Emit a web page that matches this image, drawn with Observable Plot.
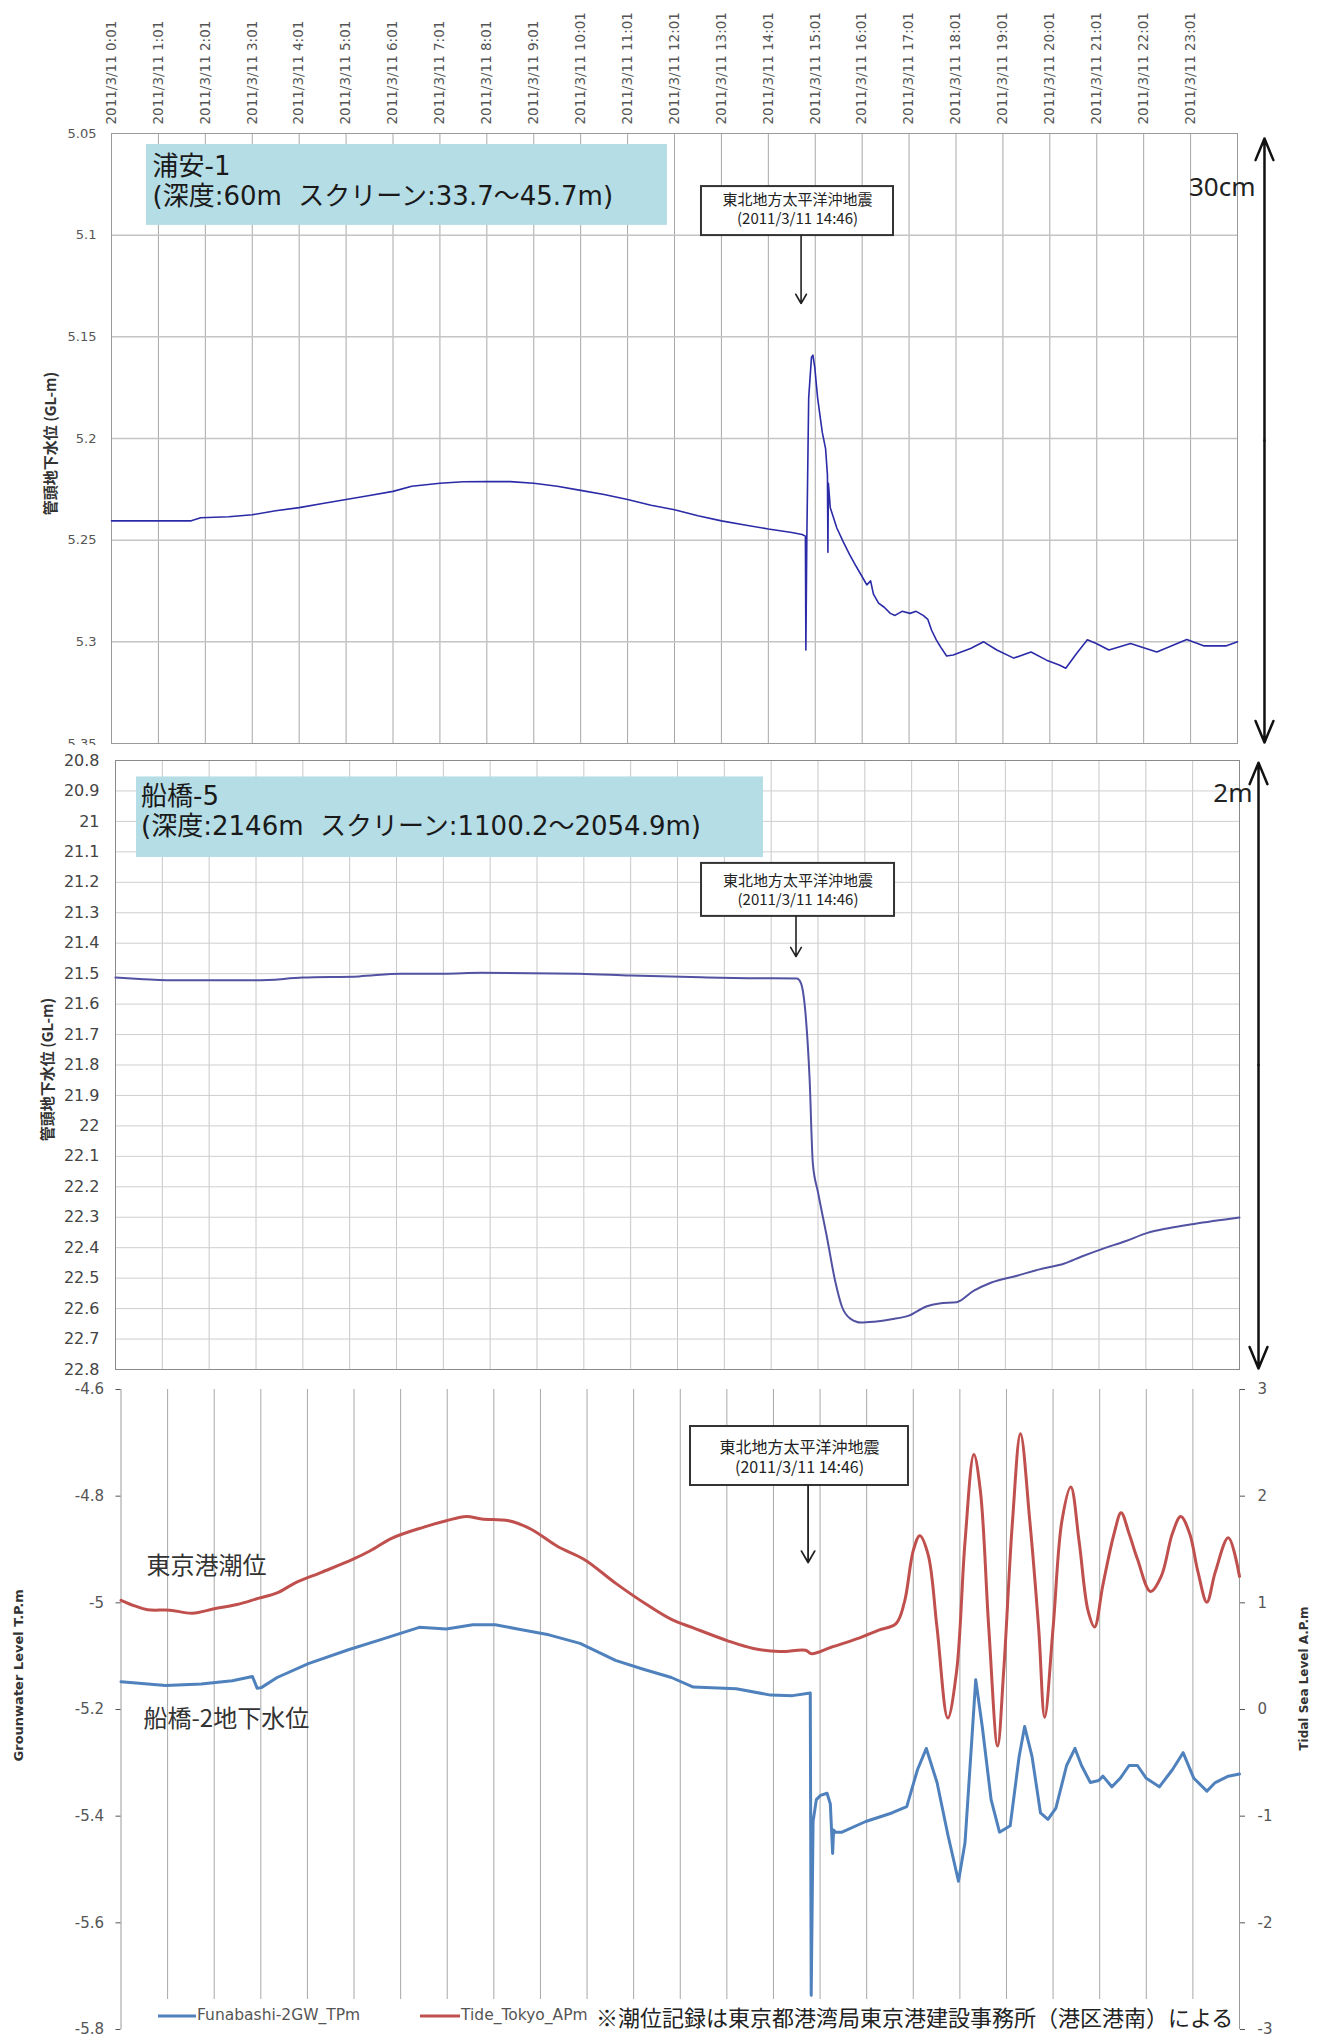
<!DOCTYPE html>
<html><head><meta charset="utf-8">
<script src="https://cdn.jsdelivr.net/npm/d3@7"></script>
<script src="https://cdn.jsdelivr.net/npm/@observablehq/plot@0.6"></script>
<style>
body{margin:0;background:#fff;}
#wrap{position:relative;width:1327px;height:2044px;overflow:hidden;background:#fff;font-family:"Noto Sans CJK JP","Noto Sans",sans-serif;}
.pane{position:absolute;left:0;}
#legend{position:absolute;left:140px;top:1999px;width:1094px;height:34px;background:#fff;}
#legend span{position:absolute;top:50%;transform:translateY(-50%);white-space:nowrap;line-height:1;}
.sw{height:0;border-top:3px solid;}
.lt{font-family:"DejaVu Sans",sans-serif;font-size:15.5px;color:#555;}
.note{font-family:"Noto Sans CJK JP",sans-serif;font-size:22px;color:#222;}
</style></head><body><div id="wrap"></div>
<script>
// ---------- data ----------
const tickHours = [0,1,2,3,4,5,6,7,8,9,10,11,12,13,14,15,16,17,18,19,20,21,22,23];
const ticks1 = [5.05,5.1,5.15,5.2,5.25,5.3,5.35];
const ticks2 = [20.8,20.9,21,21.1,21.2,21.3,21.4,21.5,21.6,21.7,21.8,21.9,22,22.1,22.2,22.3,22.4,22.5,22.6,22.7,22.8];
const ticksGW = [-4.6,-4.8,-5,-5.2,-5.4,-5.6,-5.8];
const ticksTide = [3,2,1,0,-1,-2,-3];

// 浦安-1 (GL-m)
const hours1 = [0,1,1.7,1.9,2.5,3,3.5,4,4.5,5,5.5,6,6.4,7,7.5,8,8.5,9,9.5,10,10.5,11,11.5,12,12.5,13,13.5,14,14.5,14.72,14.79,14.8,14.82,14.86,14.92,14.95,14.99,15.05,15.15,15.22,15.26,15.27,15.28,15.32,15.46,15.6,15.73,15.85,16,16.1,16.18,16.24,16.35,16.47,16.6,16.7,16.85,17.02,17.15,17.3,17.4,17.48,17.58,17.67,17.8,17.94,18.31,18.59,18.87,19.23,19.6,19.93,20.2,20.34,20.57,20.8,20.99,21.26,21.72,22.28,22.92,23.29,23.75,24];
const urayasu1 = [5.2405,5.2405,5.2405,5.239,5.2385,5.2375,5.2355,5.234,5.232,5.230,5.228,5.226,5.2235,5.222,5.2213,5.2212,5.2212,5.222,5.2235,5.2255,5.2275,5.230,5.2328,5.235,5.238,5.2405,5.2425,5.2445,5.2462,5.2472,5.248,5.304,5.25,5.18,5.16,5.159,5.165,5.18,5.197,5.205,5.218,5.256,5.222,5.234,5.244,5.251,5.257,5.262,5.268,5.272,5.270,5.2765,5.281,5.283,5.286,5.287,5.285,5.286,5.285,5.287,5.289,5.2943,5.299,5.3025,5.307,5.3065,5.3033,5.300,5.304,5.308,5.305,5.309,5.3114,5.313,5.3057,5.299,5.3008,5.304,5.3008,5.305,5.2989,5.302,5.302,5.300];

// 船橋-5 (GL-m)
const hours2 = [0,0.6,1.35,3,4,5.2,6.1,7,7.8,9.9,11,12.5,13.5,14.55,14.63,14.74,14.82,14.89,15.0,15.19,15.37,15.51,15.69,15.92,16.2,16.57,16.94,17.31,17.59,17.96,18.32,18.69,19.25,19.71,20.26,20.63,21.09,21.56,22.02,22.48,23.03,24];
const funabashi5 = [21.513,21.518,21.522,21.522,21.513,21.509,21.500,21.500,21.497,21.500,21.506,21.512,21.515,21.516,21.529,21.643,21.843,22.124,22.218,22.365,22.512,22.593,22.633,22.646,22.643,22.635,22.623,22.593,22.583,22.579,22.542,22.515,22.492,22.472,22.452,22.429,22.403,22.379,22.352,22.336,22.322,22.301];

// Funabashi-2GW_TPm (T.P.m)
const hoursGW = [0,0.96,1.72,2.39,2.82,2.92,3.01,3.35,4.02,4.88,5.54,6.4,6.98,7.55,8.03,8.51,9.18,9.85,10.61,11.19,11.81,12.28,13.2,13.94,14.41,14.79,14.81,14.85,14.92,15.01,15.15,15.22,15.27,15.29,15.33,15.47,15.98,16.54,16.86,17.09,17.28,17.51,17.74,17.97,18.11,18.25,18.34,18.48,18.67,18.85,19.08,19.27,19.39,19.55,19.73,19.89,20.06,20.29,20.47,20.61,20.8,20.98,21.07,21.26,21.44,21.63,21.81,22.0,22.28,22.56,22.79,23.02,23.3,23.48,23.76,24];
const funabashi2 = [-5.148,-5.155,-5.152,-5.146,-5.138,-5.160,-5.159,-5.140,-5.114,-5.088,-5.070,-5.046,-5.049,-5.041,-5.041,-5.049,-5.06,-5.076,-5.108,-5.124,-5.14,-5.158,-5.161,-5.173,-5.174,-5.169,-5.736,-5.41,-5.369,-5.361,-5.357,-5.377,-5.47,-5.426,-5.43,-5.43,-5.41,-5.394,-5.382,-5.313,-5.273,-5.337,-5.434,-5.522,-5.45,-5.265,-5.144,-5.232,-5.369,-5.43,-5.418,-5.289,-5.232,-5.289,-5.394,-5.406,-5.385,-5.305,-5.273,-5.305,-5.337,-5.333,-5.325,-5.345,-5.329,-5.305,-5.305,-5.329,-5.345,-5.313,-5.281,-5.329,-5.353,-5.337,-5.325,-5.321];

// Tide_Tokyo_APm (A.P.m)
const hoursTide = [0,0.29,0.57,1.05,1.53,2.0,2.49,2.96,3.35,3.73,4.3,4.97,5.35,5.83,6.5,6.98,7.41,7.74,8.32,8.8,9.37,9.94,10.61,11.28,11.81,12.28,13.02,13.57,14.13,14.69,14.82,15.24,15.8,16.26,16.63,16.81,17.0,17.14,17.32,17.51,17.74,17.93,18.11,18.3,18.44,18.62,18.81,18.94,19.13,19.3,19.5,19.69,19.82,20.0,20.19,20.38,20.56,20.75,20.89,21.07,21.31,21.46,21.63,21.81,22.09,22.32,22.56,22.74,22.93,23.11,23.3,23.48,23.76,24];
const tideTokyo = [1.024,0.972,0.935,0.931,0.903,0.944,0.984,1.044,1.093,1.185,1.286,1.407,1.488,1.609,1.71,1.77,1.81,1.786,1.77,1.69,1.528,1.407,1.185,0.984,0.845,0.765,0.644,0.572,0.543,0.555,0.523,0.584,0.664,0.745,0.805,1.006,1.49,1.63,1.45,0.765,-0.08,0.36,1.57,2.39,2.05,0.765,-0.343,0.36,1.77,2.585,1.77,0.765,-0.073,0.765,1.77,2.086,1.57,0.926,0.773,1.17,1.65,1.844,1.65,1.41,1.107,1.248,1.65,1.81,1.65,1.288,1.006,1.288,1.61,1.248];

// ---------- helpers ----------
const W = 1327;
const JP = "Noto Sans CJK JP";
const BOXFONT = "DejaVu Sans, Noto Sans CJK JP";
const zipHV = (h, v) => h.map((x, i) => ({h: x, v: v[i]}));
const tideToLeft = r => r / 5 - 5.2;   // right axis (A.P.m) mapped onto left axis (T.P.m)
const leftToTide = v => Math.round((v + 5.2) * 5);
const hourFmt = h => `2011/3/11 ${h}:01`;
const quakeL1 = "東北地方太平洋沖地震", quakeL2 = "(2011/3/11 14:46)";
const yTitle = "管頭地下水位 (GL-m)";
const wrap = document.getElementById("wrap");
function place(svg, top){ const d=document.createElement("div"); d.className="pane"; d.style.top=top+"px"; d.appendChild(svg); wrap.appendChild(d); }

// ---------- panel 1 : 浦安-1 ----------
const a1 = {
  title:{y:5.2025},
  box:{x1:0.746,x2:11.85,y1:5.0554,y2:5.0952}, t1:{x:0.874,y:5.0662,t:"浦安-1"}, t2:{x:0.874,y:5.0813,t:"(深度:60m  スクリーン:33.7～45.7m)"},
  qbox:{x1:12.575,x2:16.668,y1:5.0761,y2:5.1002}, q1:{x:14.622,y:5.083}, q2:{x:14.622,y:5.0923},
  arrow:{x1:14.698,y1:5.1002,x2:14.698,y2:5.1336},
  scale:{x:24.575,top:5.0525,bot:5.3495,mid:5.201}, scaleLabel:{x:24.384,y:5.0768,t:"30cm"}
};
const p1 = Plot.plot({
  width: W, height: 755, marginTop: 133, marginBottom: 12, marginLeft: 111, marginRight: 90,
  style: {fontFamily: "DejaVu Sans, sans-serif", background: "transparent", overflow: "visible"},
  x: {domain: [0, 24], axis: null},
  y: {domain: [5.05, 5.35], reverse: true, axis: null},
  marks: [
    Plot.gridX(tickHours.slice(1), {stroke: "#a8a8a8", strokeOpacity: 1}),
    Plot.gridY(ticks1.slice(1, -1), {stroke: "#c4c4c4", strokeOpacity: 1, strokeWidth: 1.5}),
    Plot.frame({stroke: "#9a9a9a"}),
    Plot.axisX(tickHours, {anchor: "top", tickRotate: -90, tickFormat: hourFmt, tickSize: 0, tickPadding: 9, textAnchor: "start", lineAnchor: "middle", fontSize: 13.5, color: "#555"}),
    Plot.axisY(ticks1, {anchor: "left", tickSize: 0, tickPadding: 15, tickFormat: d => String(+d.toFixed(2)), fontSize: 13, color: "#555"}),
    Plot.text([{...a1.title, t: yTitle}], {y: "y", text: "t", frameAnchor: "left", textAnchor: "middle", dx: -60, rotate: -90, fontFamily: JP, fontSize: 15, fontWeight: "bold", fill: "#333"}),
    Plot.rect([a1.box], {x1: "x1", x2: "x2", y1: "y1", y2: "y2", fill: "#b5dde6"}),
    Plot.text([a1.t1, a1.t2], {x: "x", y: "y", text: "t", textAnchor: "start", fontFamily: BOXFONT, fontSize: 26, fill: "#1a1a1a"}),
    Plot.line(zipHV(hours1, urayasu1), {x: "h", y: "v", stroke: "#2b2ba8", strokeWidth: 1.6}),
    Plot.rect([a1.qbox], {x1: "x1", x2: "x2", y1: "y1", y2: "y2", fill: "white", stroke: "#333", strokeWidth: 2}),
    Plot.text([{...a1.q1, t: quakeL1}, {...a1.q2, t: quakeL2}], {x: "x", y: "y", text: "t", fontFamily: JP, fontSize: 15, fill: "#222"}),
    Plot.arrow([a1.arrow], {x1: "x1", y1: "y1", x2: "x2", y2: "y2", stroke: "#222", strokeWidth: 1.6, headLength: 10}),
    Plot.arrow([{x: a1.scale.x, y1: a1.scale.mid, y2: a1.scale.top}, {x: a1.scale.x, y1: a1.scale.mid, y2: a1.scale.bot}], {x1: "x", x2: "x", y1: "y1", y2: "y2", stroke: "#111", strokeWidth: 2.5, headLength: 14, headAngle: 45}),
    Plot.text([a1.scaleLabel], {x: "x", y: "y", text: "t", textAnchor: "end", fontFamily: "Noto Sans", fontSize: 26, fill: "#222"})
  ]
});
place(p1, 0);

// ---------- panel 2 : 船橋-5 ----------
const a2 = {
  title:{y:21.815},
  box:{x1:0.448,x2:13.836,y1:20.854,y2:21.1186}, t1:{x:0.547,y:20.918,t:"船橋-5"}, t2:{x:0.547,y:21.0167,t:"(深度:2146m  スクリーン:1100.2～2054.9m)"},
  qbox:{x1:12.513,x2:16.634,y1:21.138,y2:21.312}, q1:{x:14.573,y:21.196}, q2:{x:14.573,y:21.26},
  arrow:{x1:14.53,y1:21.312,x2:14.53,y2:21.444},
  scale:{x:24.406,top:20.807,bot:22.797,mid:21.8}, scaleLabel:{x:24.278,y:20.908,t:"2m"}
};
const p2 = Plot.plot({
  width: W, height: 634, marginTop: 15, marginBottom: 10, marginLeft: 115, marginRight: 88,
  style: {fontFamily: "DejaVu Sans, sans-serif", background: "white", overflow: "visible"},
  x: {domain: [0, 24], axis: null},
  y: {domain: [20.8, 22.8], reverse: true, axis: null},
  marks: [
    Plot.gridX(tickHours.slice(1), {stroke: "#c8c8c8", strokeOpacity: 1}),
    Plot.gridY(ticks2.slice(1, -1), {stroke: "#cfcfcf", strokeOpacity: 1}),
    Plot.frame({stroke: "#8a8a8a"}),
    Plot.axisY(ticks2, {anchor: "left", tickSize: 0, tickPadding: 16, tickFormat: d => String(+d.toFixed(1)), fontSize: 16, color: "#444"}),
    Plot.text([{...a2.title, t: yTitle}], {y: "y", text: "t", frameAnchor: "left", textAnchor: "middle", dx: -67, rotate: -90, fontFamily: JP, fontSize: 15, fontWeight: "bold", fill: "#333"}),
    Plot.rect([a2.box], {x1: "x1", x2: "x2", y1: "y1", y2: "y2", fill: "#b5dde6"}),
    Plot.text([a2.t1, a2.t2], {x: "x", y: "y", text: "t", textAnchor: "start", fontFamily: BOXFONT, fontSize: 26, fill: "#1a1a1a"}),
    Plot.line(zipHV(hours2, funabashi5), {x: "h", y: "v", stroke: "#5252a3", strokeWidth: 2, curve: "monotone-x"}),
    Plot.rect([a2.qbox], {x1: "x1", x2: "x2", y1: "y1", y2: "y2", fill: "white", stroke: "#333", strokeWidth: 2}),
    Plot.text([{...a2.q1, t: quakeL1}, {...a2.q2, t: quakeL2}], {x: "x", y: "y", text: "t", fontFamily: JP, fontSize: 15, fill: "#222"}),
    Plot.arrow([a2.arrow], {x1: "x1", y1: "y1", x2: "x2", y2: "y2", stroke: "#222", strokeWidth: 1.6, headLength: 10}),
    Plot.arrow([{x: a2.scale.x, y1: a2.scale.mid, y2: a2.scale.top}, {x: a2.scale.x, y1: a2.scale.mid, y2: a2.scale.bot}], {x1: "x", x2: "x", y1: "y1", y2: "y2", stroke: "#111", strokeWidth: 2.5, headLength: 14, headAngle: 45}),
    Plot.text([a2.scaleLabel], {x: "x", y: "y", text: "t", textAnchor: "end", fontFamily: "Noto Sans", fontSize: 26, fill: "#222"})
  ]
});
place(p2, 745);

// ---------- panel 3 : 船橋-2 / 東京港潮位 ----------
const a3 = {
  qbox:{x1:12.22,x2:16.897,y1:-4.6694,y2:-4.78}, q1:{x:14.559,y:-4.7088}, q2:{x:14.559,y:-4.7463},
  arrow:{x1:14.743,y1:-4.78,x2:14.743,y2:-4.9244},
  tideLabel:{x:0.547,y:-4.932,t:"東京港潮位"}, gwLabel:{x:0.483,y:-5.219,t:"船橋-2地下水位"},
  leftTitle:{y:-5.136,t:"Grounwater Level T.P.m"}, rightTitle:{y:-5.142,t:"Tidal Sea Level A.P.m"}
};
const p3 = Plot.plot({
  width: W, height: 669, marginTop: 14, marginBottom: 15, marginLeft: 120.5, marginRight: 88,
  style: {fontFamily: "DejaVu Sans, sans-serif", background: "transparent", overflow: "visible"},
  x: {domain: [0, 24], axis: null},
  y: {domain: [-5.8, -4.6], axis: null},
  marks: [
    Plot.gridX(tickHours.slice(1), {stroke: "#a8a8a8", strokeOpacity: 1}),
    Plot.ruleX([0, 24], {stroke: "#9a9a9a"}),
    Plot.axisY(ticksGW, {anchor: "left", tickSize: 5, tickPadding: 12, tickFormat: d => String(d), fontSize: 15, color: "#555"}),
    Plot.axisY(ticksTide.map(tideToLeft), {anchor: "right", tickSize: 5, tickPadding: 13, tickFormat: v => String(leftToTide(v)), fontSize: 15, color: "#555"}),
    Plot.text([a3.leftTitle], {y: "y", text: "t", frameAnchor: "left", textAnchor: "middle", dx: -102.5, rotate: -90, fontSize: 13, fontWeight: "bold", fill: "#333"}),
    Plot.text([a3.rightTitle], {y: "y", text: "t", frameAnchor: "right", textAnchor: "middle", dx: 65, rotate: -90, fontSize: 12, fontWeight: "bold", fill: "#333"}),
    Plot.line(zipHV(hoursTide, tideTokyo), {x: "h", y: d => tideToLeft(d.v), stroke: "#c0504d", strokeWidth: 3, curve: "catmull-rom"}),
    Plot.line(zipHV(hoursGW, funabashi2), {x: "h", y: "v", stroke: "#4f81bd", strokeWidth: 3}),
    Plot.text([a3.tideLabel, a3.gwLabel], {x: "x", y: "y", text: "t", textAnchor: "start", fontFamily: JP, fontSize: 24, fill: "#333"}),
    Plot.rect([a3.qbox], {x1: "x1", x2: "x2", y1: "y1", y2: "y2", fill: "white", stroke: "#333", strokeWidth: 2}),
    Plot.text([{...a3.q1, t: quakeL1}, {...a3.q2, t: quakeL2}], {x: "x", y: "y", text: "t", fontFamily: JP, fontSize: 16, fill: "#222"}),
    Plot.arrow([a3.arrow], {x1: "x1", y1: "y1", x2: "x2", y2: "y2", stroke: "#222", strokeWidth: 1.8, headLength: 11})
  ]
});
place(p3, 1375);

// ---------- legend ----------
const lg = document.createElement("div");
lg.id = "legend";
lg.innerHTML =
  `<span class="sw" style="border-color:#4f81bd;width:38px;left:18px"></span><span class="lt" style="left:57px">Funabashi-2GW_TPm</span>` +
  `<span class="sw" style="border-color:#c0504d;width:40px;left:280px"></span><span class="lt" style="left:321px">Tide_Tokyo_APm</span>` +
  `<span class="note" style="left:456px">※潮位記録は東京都港湾局東京港建設事務所（港区港南）による</span>`;
wrap.appendChild(lg);
</script></body></html>
